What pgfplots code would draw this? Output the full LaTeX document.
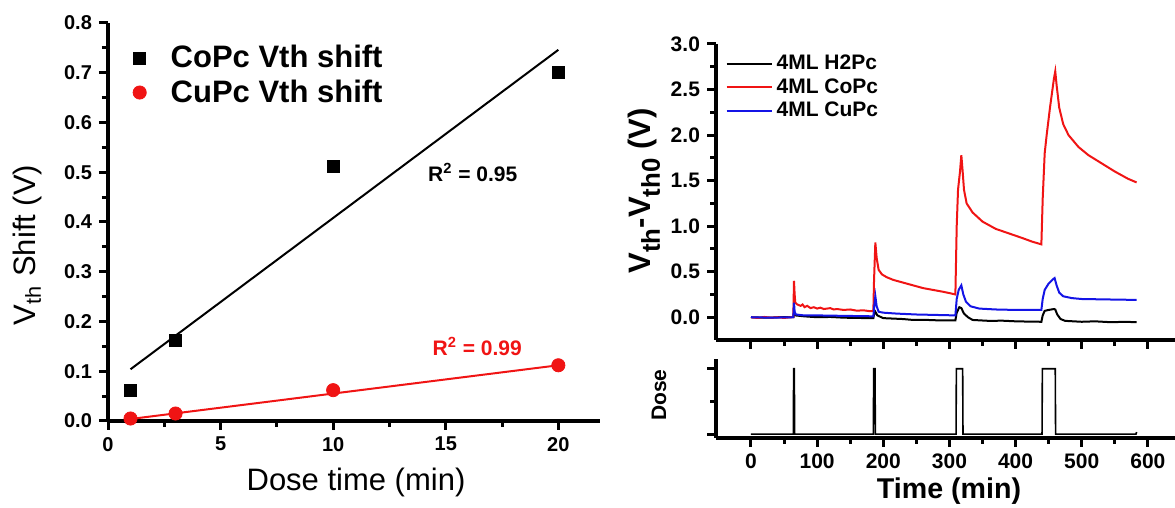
\documentclass[border=0pt]{standalone}
\usepackage{fontspec}
\setmainfont{Liberation Sans}
\usepackage{pgfplots}
\pgfplotsset{compat=1.18}
\definecolor{myred}{RGB}{240,20,20}
\definecolor{myblue}{RGB}{20,20,230}
\newcommand{\bsub}[1]{\raisebox{-0.3em}{\fontsize{12.9}{13}\selectfont #1}}
\pgfplotsset{
  origin/.style={
    scale only axis,
    axis lines=left,
    axis line style={line width=1.8pt,-},
    tick align=outside,
    tick style={line width=1.5pt,black},
    major tick length=4.5pt,
    minor tick length=3pt,
    ticklabel style={font=\bfseries\fontsize{10}{12}\selectfont},
    /pgf/number format/assume math mode=true,
  }
}
\begin{document}
\begin{tikzpicture}
\useasboundingbox (0,0) rectangle (587.5pt,254pt);
% ---------------- left chart ----------------
\begin{axis}[origin,
  at={(54pt,43.5pt)}, anchor=south west, width=246pt, height=199pt,
  xmin=0, xmax=21.85, ymin=0, ymax=0.8,
  xtick={0,5,10,15,20}, minor xtick={2.5,7.5,12.5,17.5},
  ytick={0,0.1,0.2,0.3,0.4,0.5,0.6,0.7,0.8},
  minor ytick={0.05,0.15,0.25,0.35,0.45,0.55,0.65,0.75},
  yticklabel style={/pgf/number format/.cd,fixed,fixed zerofill,precision=1},
  legend style={at={(axis description cs:0.038,0.965)}, anchor=north west,
    draw=none, fill=none, font=\bfseries\fontsize{15.5}{18}\selectfont,
    row sep=0.5pt},
  legend cell align=left,
  legend image code/.code={\draw[#1] plot coordinates {(0pt,0pt)}; \path[draw=none,fill=none] (-3pt,0pt) -- (13.5pt,0pt);},
  clip=false]
\addplot[black, line width=1pt, forget plot] coordinates {(1,0.104) (20,0.746)};
\addplot[only marks, mark=square*, mark size=3pt, black] coordinates {(1,0.062) (3,0.162) (10,0.512) (20,0.70)};
\addlegendentry{CoPc Vth shift}
\addplot[myred, line width=1pt, forget plot] coordinates {(1,0.004) (20,0.112)};
\addplot[only marks, mark=*, mark size=3.3pt, myred] coordinates {(1,0.005) (3,0.015) (10,0.062) (20,0.112)};
\addlegendentry{CuPc Vth shift}
\node[font=\bfseries\fontsize{10.5}{12}\selectfont, black] at (axis cs:16.2,0.50) {R\textsuperscript{2} = 0.95};
\node[font=\bfseries\fontsize{10.5}{12}\selectfont, myred] at (axis cs:16.4,0.149) {R\textsuperscript{2} = 0.99};
\end{axis}
\node[rotate=90, font=\fontsize{15.5}{18}\selectfont] at (13.5pt,131.5pt) {V\textsubscript{th} Shift (V)};
\node[font=\fontsize{15.5}{18}\selectfont] at (178pt,13pt) {Dose time (min)};
% ---------------- right top chart ----------------
\begin{axis}[origin,
  ticklabel style={font=\bfseries\fontsize{10.5}{12}\selectfont},
  at={(358pt,84pt)}, anchor=south west, width=229.5pt, height=148pt,
  xmin=-52.9, xmax=641, ymin=-0.25, ymax=3,
  xtick={0,100,200,300,400,500,600}, xticklabels={},
  minor xtick={50,150,250,350,450,550},
  ytick={0,0.5,1,1.5,2,2.5,3},
  minor ytick={0.25,0.75,1.25,1.75,2.25,2.75},
  yticklabel style={/pgf/number format/.cd,fixed,fixed zerofill,precision=1},
  legend style={at={(axis description cs:0.007,0.992)}, anchor=north west,
    draw=none, fill=none, font=\bfseries\fontsize{10.5}{12}\selectfont,
    row sep=-1pt},
  legend cell align=left,
  legend image code/.code={\draw[#1] (0pt,0pt) -- (22.5pt,0pt);}]
\addplot[black, line width=1pt] coordinates {
(0,0) (15,-0.004) (30,-0.005) (45,0.002) (64,0) (65,0.05) (67,0.02) (80,0.01) (100,0.0) (120,0.003) (140,-0.005) (160,-0.008) (185,-0.01)
(186,0.03) (188,0.06) (191,0.02) (200,-0.01) (215,-0.015) (230,-0.02) (245,-0.03) (260,-0.028) (285,-0.035) (309,-0.035)
(311,0.05) (315,0.11) (318,0.10) (322,0.04) (328,0.0) (335,-0.03) (360,-0.04) (380,-0.038) (400,-0.045) (420,-0.048) (439,-0.05)
(441,0.02) (444,0.07) (450,0.08) (458,0.09) (460,0.085) (463,0.03) (468,-0.02) (475,-0.04) (500,-0.05) (520,-0.045) (545,-0.055) (565,-0.05) (583,-0.055)};
\addlegendentry{4ML H2Pc}
\addplot[myred, line width=1pt] coordinates {
(0,0) (10,-0.008) (20,0.003) (30,-0.005) (40,0) (50,-0.008) (60,0) (64,0.0) (65,0.40) (66,0.25) (67,0.16) (70,0.14) (75,0.125) (78,0.14) (81,0.11) (85,0.125) (90,0.10) (95,0.11) (100,0.095) (105,0.105) (110,0.09) (120,0.10) (125,0.085) (130,0.09) (140,0.08) (150,0.085) (160,0.072) (170,0.076) (180,0.066) (185,0.07)
(186,0.4) (188,0.82) (190,0.65) (193,0.52) (198,0.47) (205,0.44) (215,0.41) (230,0.38) (245,0.35) (260,0.32) (275,0.30) (290,0.28) (300,0.265) (309,0.25)
(311,1.0) (313,1.4) (316,1.6) (318,1.78) (320,1.6) (322,1.4) (326,1.25) (335,1.15) (350,1.05) (370,0.97) (390,0.92) (410,0.87) (425,0.83) (439,0.80)
(441,1.3) (444,1.8) (447,2.0) (452,2.3) (458,2.62) (460,2.70) (462,2.55) (466,2.3) (472,2.12) (480,2.0) (495,1.87) (510,1.78) (530,1.69) (550,1.60) (570,1.52) (583,1.48)};
\addlegendentry{4ML CoPc}
\addplot[myblue, line width=1pt] coordinates {
(0,0) (30,-0.005) (64,0) (65,0.16) (66,0.06) (68,0.03) (80,0.02) (100,0.02) (140,0.015) (185,0.01)
(186,0.1) (188,0.23) (190,0.12) (193,0.06) (200,0.05) (220,0.04) (250,0.03) (280,0.025) (309,0.02)
(311,0.2) (314,0.3) (318,0.35) (321,0.25) (325,0.17) (332,0.12) (345,0.095) (370,0.085) (400,0.08) (439,0.08)
(441,0.2) (444,0.3) (450,0.37) (457,0.42) (459,0.43) (462,0.35) (466,0.27) (472,0.23) (485,0.21) (500,0.2) (540,0.195) (583,0.19)};
\addlegendentry{4ML CuPc}
\end{axis}
% ---------------- right bottom chart ----------------
\begin{axis}[origin,
  ticklabel style={font=\bfseries\fontsize{10.5}{12}\selectfont},
  at={(358pt,35pt)}, anchor=south west, width=229.5pt, height=39.5pt,
  xmin=-52.9, xmax=641, ymin=-0.06, ymax=1.15,
  xtick={0,100,200,300,400,500,600},
  minor xtick={50,150,250,350,450,550},
  ytick={0,1}, yticklabels={}, minor ytick={0.5}]
\addplot[black, line width=0.8pt] coordinates {
(0,0) (64,0) (64.5,1) (65.5,1) (66,0) (185,0) (185.5,1) (187.5,1) (188,0) (310,0) (310.5,1) (320,1) (320.5,0) (440,0) (440.5,1) (460,1) (460.5,0) (582,0) (583,0.03)};
\end{axis}
\node[rotate=90, font=\bfseries\fontsize{15.5}{18}\selectfont] at (322pt,158.5pt) {V\bsub{th}-V\bsub{th0} (V)};
\node[rotate=90, font=\bfseries\fontsize{10.5}{12}\selectfont] at (329.5pt,56.5pt) {Dose};
\node[font=\bfseries\fontsize{14.3}{16}\selectfont] at (474.5pt,8.5pt) {Time (min)};
\end{tikzpicture}
\end{document}
